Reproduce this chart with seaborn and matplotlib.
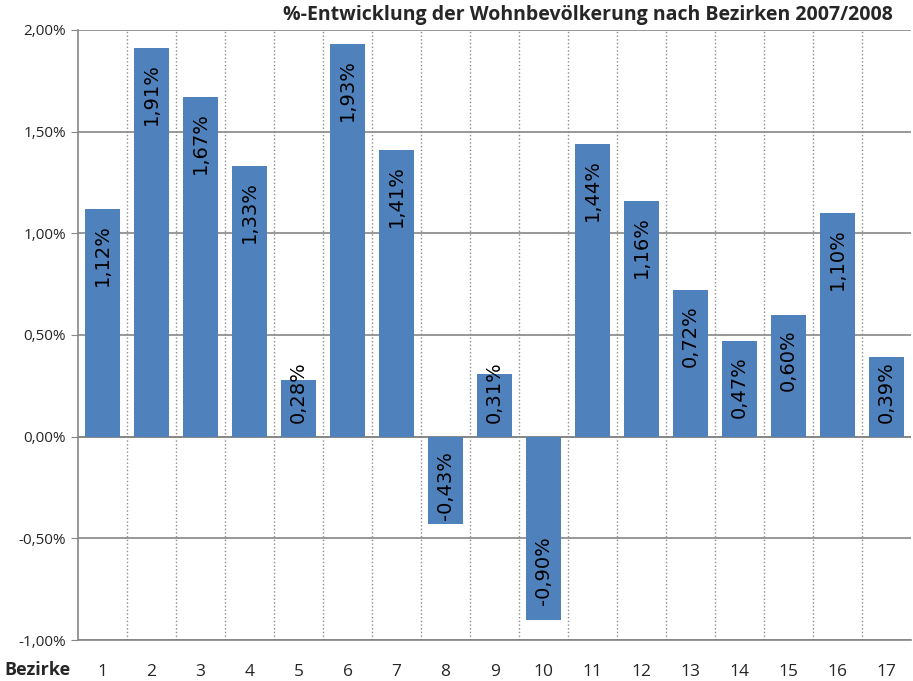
import matplotlib.pyplot as plt
import matplotlib.ticker as mticker
import pandas as pd
import seaborn as sns

bezirke = [str(i) for i in range(1, 18)]
werte = [1.12, 1.91, 1.67, 1.33, 0.28, 1.93, 1.41, -0.43, 0.31, -0.90,
         1.44, 1.16, 0.72, 0.47, 0.60, 1.10, 0.39]
y_ticks = [-1.0, -0.5, 0.0, 0.5, 1.0, 1.5, 2.0]

df = pd.DataFrame({'Bezirk': bezirke, 'Wert': werte})

sns.set_style('white')
plt.rcParams['font.family'] = ['Open Sans', 'DejaVu Sans']

fig = plt.figure(figsize=(9.13, 6.81), dpi=100)
ax = fig.add_axes([0.0854, 0.0602, 0.9126, 0.8958])

sns.barplot(data=df, x='Bezirk', y='Wert', color='#4F81BD', saturation=1,
            width=0.71, linewidth=0, edgecolor='none', ax=ax, zorder=3)

def fmt(v):
	return ('%.2f' % v).replace('.', ',') + '%'

ax.set_ylim(-1.0, 2.0)
ax.set_xlim(-0.5, len(bezirke) - 0.5)

# labels "inside end", kept clear of the zero line
renderer = fig.canvas.get_renderer()
inv = ax.transData.inverted()
base_px = ax.transData.transform((0, 0))[1]
for i, v in enumerate(werte):
	t = ax.text(i, 0, fmt(v), rotation=90, ha='center', va='center',
	            fontsize=14, family='DejaVu Sans', color='black', zorder=4)
	L = t.get_window_extent(renderer).height
	end_px = ax.transData.transform((0, v))[1]
	if v >= 0:
		top = end_px - 15
		bot = top - L
		if bot < base_px + 14:
			bot = base_px + 14
			top = bot + L
	else:
		bot = end_px + 15
		top = bot + L
		if top > base_px - 14:
			top = base_px - 14
			bot = top - L
	yc = inv.transform((0, (top + bot) / 2))[1]
	t.set_y(yc)

ax.set_yticks(y_ticks)
ax.yaxis.set_major_formatter(mticker.FuncFormatter(lambda v, p: fmt(v)))
ax.set_xticks(range(len(bezirke)))
ax.set_xticklabels(bezirke)
ax.set_xticks([i + 0.5 for i in range(len(bezirke) - 1)], minor=True)

ax.grid(axis='y', which='major', color='#868686', linewidth=1.2, zorder=0)
ax.grid(axis='x', which='minor', color='#8c8c8c', linestyle=':', linewidth=1, zorder=0)
ax.axhline(0, color='#868686', linewidth=1.2, zorder=2)

for s in ['top', 'right']:
	ax.spines[s].set_visible(False)
ax.spines['left'].set_color('#868686')
ax.spines['bottom'].set_color('#868686')
ax.spines['left'].set_linewidth(1.2)
ax.spines['bottom'].set_linewidth(1.2)

ax.tick_params(axis='y', which='major', length=5, color='#868686', labelsize=11, left=True)
ax.tick_params(axis='x', which='major', length=0, labelsize=12.5, pad=17)
ax.tick_params(axis='x', which='minor', length=0)

ax.set_xlabel('')
ax.set_ylabel('')
fig.text(0.005, 0.003, 'Bezirke', fontsize=13, fontweight='bold', ha='left', va='bottom')
fig.text(0.978, 0.964, '%-Entwicklung der Wohnbevölkerung nach Bezirken 2007/2008',
         fontsize=14, fontweight='bold', ha='right', va='bottom')

plt.savefig('out.png', dpi=100)
